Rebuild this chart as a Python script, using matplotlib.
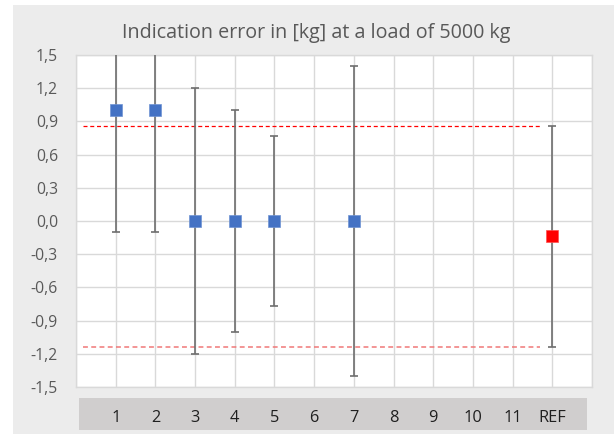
import numpy as np
import matplotlib
matplotlib.use("Agg")
import matplotlib.pyplot as plt
from matplotlib.patches import Rectangle
import matplotlib.transforms as mtransforms

# ---- data ----
categories = ['1', '2', '3', '4', '5', '6', '7', '8', '9', '10', '11', 'REF']
values = [1.0, 1.0, 0.0, 0.0, 0.0, np.nan, 0.0, np.nan, np.nan, np.nan, np.nan, -0.14]
errors = [1.1, 1.1, 1.2, 1.0, 0.77, np.nan, 1.4, np.nan, np.nan, np.nan, np.nan, 1.0]
limit_upper = 0.86
limit_lower = -1.14
yticks = [-1.5, -1.2, -0.9, -0.6, -0.3, 0.0, 0.3, 0.6, 0.9, 1.2, 1.5]
title = "Indication error in [kg] at a load of 5000 kg"

plt.rcParams['font.family'] = ['Open Sans', 'DejaVu Sans']

W, H = 614, 434
fig = plt.figure(figsize=(W / 100, H / 100), dpi=100)
fig.patch.set_facecolor('white')

def fx(px):
    return px / W

def fy(py):
    return 1 - py / H

# outer chart frame
fig.patches.append(Rectangle((fx(13), 0), fx(W - 13), 1 - 5 / H,
                             transform=fig.transFigure, facecolor='#ececec',
                             edgecolor='none', zorder=-2))
# category band
fig.patches.append(Rectangle((fx(79), fy(430)), fx(587 - 79), (430 - 398) / H,
                             transform=fig.transFigure, facecolor='#d0cece',
                             edgecolor='none', zorder=-1))

ax = fig.add_axes([fx(76), fy(387), fx(592 - 76), (387 - 55) / H])
ax.set_zorder(1)
ax.set_facecolor('white')

x = np.arange(1, len(categories) + 1)
vals = np.array(values, dtype=float)
errs = np.array(errors, dtype=float)

ax.set_xlim(0, len(categories) + 1)
ax.set_ylim(yticks[0], yticks[-1])
ax.set_yticks(yticks)
ax.set_yticklabels([f"{v:.1f}".replace('.', ',') for v in yticks],
                   color='#595959', fontsize=11.3)
ax.set_xticks(np.arange(0, len(categories) + 2))
ax.set_xticklabels([])
ax.tick_params(axis='both', length=0)
ax.tick_params(axis='y', pad=13)
ax.grid(True, color='#d9d9d9', linewidth=1.0, zorder=0)
ax.set_axisbelow(True)
for s in ax.spines.values():
    s.set_color('#d9d9d9')
    s.set_linewidth(1.0)

# limit lines
ax.plot([0.18, 11.75], [limit_upper, limit_upper], color='#ff0000', lw=0.9,
        dashes=(3.2, 2.2), zorder=2)
ax.plot([0.18, 11.7], [limit_lower, limit_lower], color='#f07878', lw=1.1,
        dashes=(3.2, 2.2), zorder=2)

mask = ~np.isnan(vals)
ax.errorbar(x[mask], vals[mask], yerr=errs[mask], fmt='none',
            ecolor='#6e6e6e', elinewidth=1.2, capsize=3.0, capthick=1.2,
            zorder=3, clip_on=True)

lab = mask.copy()
lab[-1] = False
ax.plot(x[lab], vals[lab], linestyle='none', marker='s', ms=8.6,
        mfc='#4472c4', mec='#6f93d3', mew=0.5, zorder=4)
ax.plot(x[-1:], vals[-1:], linestyle='none', marker='s', ms=8.8,
        mfc='#ff0000', mec='#ff5050', mew=0.5, zorder=4)

# category labels in the band
trans = mtransforms.blended_transform_factory(ax.transData, fig.transFigure)
for xi, c in zip(x, categories):
    fig.text(xi, fy(422), c, transform=trans, ha='center', va='baseline',
             fontsize=11.8, color='#1f1f1f')

fig.text(fx(316), fy(38), title, ha='center', va='baseline',
         fontsize=14.2, color='#595959')

fig.savefig('out.png', dpi=100)
